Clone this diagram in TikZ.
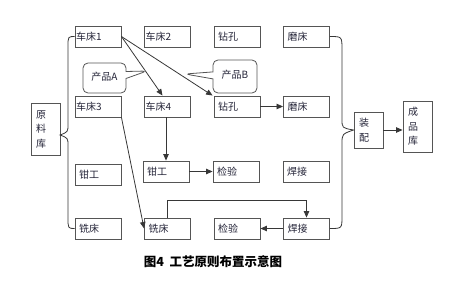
\documentclass[tikz,border=0pt]{standalone}
\usepackage{fontspec}
\setmainfont{Noto Sans CJK SC}
\usetikzlibrary{arrows.meta,shapes.callouts,calc}
\definecolor{boxc}{RGB}{85,85,85}
\definecolor{lnc}{RGB}{55,55,55}
\definecolor{txt}{RGB}{35,35,55}
\begin{document}
\begin{tikzpicture}[x=1pt,y=-1pt,
  box/.style={draw=boxc, line width=0.9pt, minimum width=46pt, minimum height=21pt,
    text width=38pt, align=left, inner xsep=4pt, inner ysep=0pt,
    font=\fontsize{10}{11}\selectfont, text=txt},
  cbox/.style={box, text width=44pt, inner xsep=1pt},
  vbox/.style={draw=boxc, line width=0.9pt, minimum width=29pt, text width=19pt,
    align=left, inner xsep=5pt, inner ysep=0pt, font=\fontsize{10}{14.5}\selectfont, text=txt},
  ln/.style={draw=lnc, line width=0.8pt},
  arr/.style={ln, -{Triangle[length=6.5pt,width=5.5pt]}},
  call/.style={rectangle callout, draw=boxc, line width=0.8pt, rounded corners=5pt,
    callout pointer width=7pt, font=\fontsize{10}{11}\selectfont, text=txt, inner sep=0pt}
]
\useasboundingbox (0,0) rectangle (464,289);

% row 1
\node[cbox] (c1) at (98,36.5) {车床1};
\node[cbox] (c2) at (167.5,36.5) {车床2};
\node[box]  (d1) at (237,36.5) {钻孔};
\node[box]  (g1) at (306.5,36.5) {磨床};
% row 2
\node[cbox] (c3) at (98,106.5) {车床3};
\node[cbox] (c4) at (167.5,106.5) {车床4};
\node[box]  (d2) at (237,106.5) {钻孔};
\node[box]  (g2) at (306.5,106.5) {磨床};
% row 3
\node[box]  (q1) at (98,175) {钳工};
\node[box]  (q2) at (166,171.5) {钳工};
\node[box]  (j3) at (236,171.5) {检验};
\node[box]  (h3) at (306,172) {焊接};
% row 4
\node[box]  (m1) at (98,228.5) {铣床};
\node[box]  (m2) at (167.5,228.5) {铣床};
\node[box]  (j4) at (237,228.5) {检验};
\node[box]  (h4) at (306.5,228.5) {焊接};

% stores
\node[vbox, minimum height=52pt] (yl) at (45.5,129) {原\\料\\库};
\node[vbox, minimum height=36pt] (zp) at (368.5,130) {装\\配};
\node[vbox, minimum height=51pt] (cp) at (417.5,126.5) {成\\品\\库};

% callouts
\coordinate (pa) at (147,71);
\coordinate (pb) at (185,74);
\node[call, minimum width=43pt, minimum height=30pt, callout absolute pointer={(pa)}] (ca) at (104.5,78) {\raisebox{3pt}{产品A}};
\node[call, minimum width=44pt, minimum height=33pt, callout absolute pointer={(pb)}] (cb) at (235,76.5) {\raisebox{5pt}{产品B}};

% braces
\coordinate (lp) at (60,135);
\path[ln] (c1.west) .. controls (68,36.5) .. (68,47) -- (68,124)
  .. controls (68,132) .. (lp) .. controls (68,138) .. (68,146) -- (68,217)
  .. controls (68,228.5) .. (m1.west);
\path[ln] (g1.east) .. controls (342,36.5) .. (342,50) -- (342,119)
  .. controls (342,128) .. (zp.west) .. controls (342,134) .. (342,144) -- (342,216)
  .. controls (342,228.5) .. (h4.east);

% arrows
\draw[arr] (c1.east) -- ([xshift=-5pt]c4.north);
\draw[arr] (c1.east) -- ([xshift=-1pt]d2.north west);
\draw[arr] (c3.south east) -- (m2.west);
\draw[arr] (q2.north |- c4.south) -- (q2.north);
\draw[arr] (q2.east) -- (j3.west);
\draw[arr] (d2.east) -- (g2.west);
\draw[arr] (h4.west) -- (j4.east);
\draw[arr] (zp.east) -- (zp.east -| cp.west);
\draw[arr] (m2.north) -- ([yshift=17pt]m2.north) -| (h4.north);

% caption
\node[font=\fontsize{12.5}{14}\selectfont\bfseries, text=black] (cap) at (213,262) {图4\ \ 工艺原则布置示意图};
\end{tikzpicture}
\end{document}
